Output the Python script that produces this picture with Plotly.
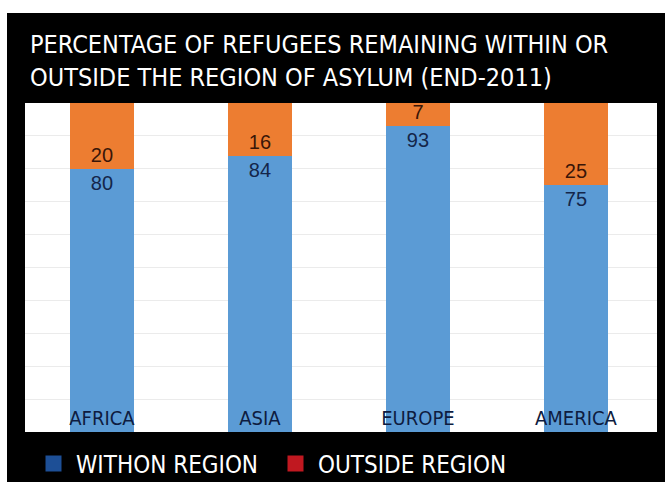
import plotly.graph_objects as go

regions = ["AFRICA", "ASIA", "EUROPE", "AMERICA"]
within_region = [80, 84, 93, 75]
outside_region = [20, 16, 7, 25]

title_text = "PERCENTAGE OF REFUGEES REMAINING WITHIN OR<br>OUTSIDE THE REGION OF ASYLUM (END-2011)"
legend_names = ["WITHON REGION", "OUTSIDE REGION"]

W, H = 665, 482
ML, MR, MT, MB = 25, 8, 103, 50
PW, PH = W - ML - MR, H - MT - MB

NARROW = "DejaVu Sans Condensed, Liberation Sans Narrow, Arial Narrow, sans-serif"

fig = go.Figure()

fig.add_trace(go.Bar(
    x=regions, y=within_region, name=legend_names[0],
    marker=dict(color="#5b9bd5", line=dict(width=0)),
    text=within_region, textposition="inside", insidetextanchor="end",
    textangle=0, constraintext="none",
    textfont=dict(family="Liberation Sans, Arial, sans-serif", size=20, color="#14264a"),
    showlegend=False,
))
fig.add_trace(go.Bar(
    x=regions, y=outside_region, name=legend_names[1],
    marker=dict(color="#ed7d31", line=dict(width=0)),
    text=outside_region, textposition="inside", insidetextanchor="start",
    textangle=0, constraintext="none",
    textfont=dict(family="Liberation Sans, Arial, sans-serif", size=20, color="#3a1608"),
    showlegend=False,
))

# legend entries (the legend uses different swatch colours than the bars)
fig.add_trace(go.Scatter(x=[None], y=[None], mode="markers", name=legend_names[0],
                         marker=dict(symbol="square", size=20, color="#1d4f96")))
fig.add_trace(go.Scatter(x=[None], y=[None], mode="markers", name=legend_names[1],
                         marker=dict(symbol="square", size=20, color="#c01820")))

def px_x(p):
    return (p - ML) / PW

def px_y(p):
    return (H - MB - p) / PH

# white border strips of the original image (outside the black panel)
fig.add_shape(type="rect", xref="paper", yref="paper",
              x0=px_x(-5), x1=px_x(W + 5), y0=px_y(13), y1=px_y(-5),
              fillcolor="white", line=dict(width=0), layer="above")
fig.add_shape(type="rect", xref="paper", yref="paper",
              x0=px_x(-5), x1=px_x(7), y0=px_y(H + 5), y1=px_y(-5),
              fillcolor="white", line=dict(width=0), layer="above")

fig.update_layout(
    width=W, height=H,
    margin=dict(l=ML, r=MR, t=MT, b=MB, pad=0),
    paper_bgcolor="black",
    plot_bgcolor="white",
    barmode="stack",
    bargap=0.6,
    title=dict(
        text=title_text,
        x=30 / W, xanchor="left", xref="container",
        y=1 - 53 / H, yanchor="top", yref="container",
        font=dict(family=NARROW, size=25, color="white"),
    ),
    legend=dict(
        orientation="h",
        traceorder="normal",
        x=31 / W, xanchor="left", xref="container",
        y=1 - 464 / H, yanchor="middle", yref="container",
        font=dict(family=NARROW, size=24, color="white"),
        bgcolor="rgba(0,0,0,0)",
        itemclick=False,
        itemwidth=35,
        entrywidth=192, entrywidthmode="pixels",
    ),
    xaxis=dict(
        type="category",
        range=[-0.487, 3.513],
        showgrid=False, zeroline=False, showline=False,
        ticks="", ticklabelposition="inside",
        tickfont=dict(family=NARROW, size=20, color="#0e1c40"),
    ),
    yaxis=dict(
        range=[0, 100], dtick=10,
        showgrid=True, gridcolor="#ebebeb", gridwidth=1,
        zeroline=False, showline=False,
        showticklabels=False, ticks="",
    ),
    font=dict(family=NARROW),
)

fig.write_html("out.html")
